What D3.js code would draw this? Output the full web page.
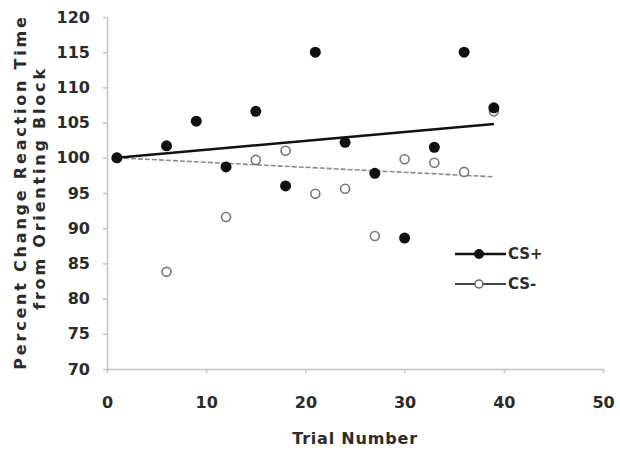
<!DOCTYPE html>
<html>
<head>
<meta charset="utf-8">
<script src="https://cdn.jsdelivr.net/npm/d3@7"></script>
<style>
  body { margin: 0; background: #fff; }
  svg { display: block; font-family: "DejaVu Sans", Verdana, sans-serif; }
</style>
</head>
<body>
<div id="scatter"></div>
<script>
// data
var plusTrials = [1, 6, 9, 12, 15, 18, 21, 24, 27, 30, 33, 36, 39];
var csPlus = [100, 101.7, 105.2, 98.7, 106.6, 96, 115, 102.2, 97.8, 88.6, 101.5, 115, 107.1];
var minusTrials = [1, 6, 12, 15, 18, 21, 24, 27, 30, 33, 36, 39];
var csMinus = [100, 83.8, 91.6, 99.7, 101, 94.9, 95.6, 88.9, 99.8, 99.3, 98, 106.6];
// trend line ends
var trendTrials = [1, 39];
var csPlusTrend = [100, 104.8];
var csMinusTrend = [100, 97.3];
var xTicks = [0, 10, 20, 30, 40, 50];
var yTicks = [70, 75, 80, 85, 90, 95, 100, 105, 110, 115, 120];
var seriesNames = ["CS+", "CS-"];

var svgWidth = 620;
var svgHeight = 457;
var margin = { top: 17, right: 17, bottom: 88, left: 107 };
var width = svgWidth - margin.left - margin.right;
var height = svgHeight - margin.top - margin.bottom;

var svg = d3.select("#scatter")
  .append("svg")
  .attr("width", svgWidth)
  .attr("height", svgHeight);

var chartGroup = svg.append("g")
  .attr("transform", `translate(${margin.left}, ${margin.top})`);

var xScale = d3.scaleLinear().domain([0, 50]).range([0, width]);
var yScale = d3.scaleLinear().domain([70, 120]).range([height, 0]);

// axes
var xAxis = chartGroup.append("g")
  .attr("transform", `translate(0, ${height})`)
  .call(d3.axisBottom(xScale).tickValues(xTicks).tickSize(4).tickSizeOuter(0));
xAxis.selectAll("text").attr("y", 28);

var yAxis = chartGroup.append("g")
  .call(d3.axisLeft(yScale).tickValues(yTicks).tickSize(4).tickSizeOuter(0));
yAxis.selectAll("text").attr("x", -17);

chartGroup.selectAll(".domain, .tick line")
  .attr("stroke", "#c4c4c4")
  .attr("stroke-width", 1.5);
chartGroup.selectAll(".tick text")
  .attr("font-family", "DejaVu Sans")
  .attr("font-size", "16px")
  .attr("font-weight", "bold")
  .attr("fill", "#2b2b2b");

// trend lines
var line = d3.line()
  .x(d => xScale(d[0]))
  .y(d => yScale(d[1]));

chartGroup.append("path")
  .datum(d3.zip(trendTrials, csMinusTrend))
  .attr("d", line)
  .attr("fill", "none")
  .attr("stroke", "#8a8a8a")
  .attr("stroke-width", 1.6)
  .attr("stroke-dasharray", "5,2");

chartGroup.append("path")
  .datum(d3.zip(trendTrials, csPlusTrend))
  .attr("d", line)
  .attr("fill", "none")
  .attr("stroke", "#111")
  .attr("stroke-width", 2.5);

// CS- open circles
chartGroup.append("g").selectAll("circle")
  .data(d3.zip(minusTrials, csMinus))
  .enter()
  .append("circle")
  .attr("cx", d => xScale(d[0]))
  .attr("cy", d => yScale(d[1]))
  .attr("r", 4.5)
  .attr("fill", "#fff")
  .attr("stroke", "#777")
  .attr("stroke-width", 1.6);

// CS+ filled circles
chartGroup.append("g").selectAll("circle")
  .data(d3.zip(plusTrials, csPlus))
  .enter()
  .append("circle")
  .attr("cx", d => xScale(d[0]))
  .attr("cy", d => yScale(d[1]))
  .attr("r", 5.5)
  .attr("fill", "#111");

// legend
var legend = svg.append("g").attr("transform", "translate(455, 254)");
seriesNames.forEach(function(name, i) {
  var row = legend.append("g").attr("transform", `translate(0, ${i * 30})`);
  row.append("line")
    .attr("x1", 0).attr("x2", 51)
    .attr("stroke", i === 0 ? "#111" : "#444")
    .attr("stroke-width", i === 0 ? 2.5 : 2);
  row.append("circle")
    .attr("cx", 24)
    .attr("r", i === 0 ? 5 : 4)
    .attr("fill", i === 0 ? "#111" : "#fff")
    .attr("stroke", i === 0 ? "none" : "#666")
    .attr("stroke-width", 1.5);
  row.append("text")
    .attr("x", 53)
    .attr("dy", "0.36em")
    .attr("font-size", "15px")
    .attr("font-weight", "bold")
    .attr("fill", "#2b2b2b")
    .text(name);
});

// x-axis label
chartGroup.append("text")
  .attr("transform", `translate(${xScale(25)}, ${height + 75})`)
  .attr("text-anchor", "middle")
  .attr("font-size", "16px")
  .attr("font-weight", "bold")
  .attr("letter-spacing", "0.8px")
  .attr("fill", "#2b2b2b")
  .text("Trial Number");

// y-axis label (two lines)
var yLabel = svg.append("text")
  .attr("transform", "translate(26, 192) rotate(-90)")
  .attr("text-anchor", "middle")
  .attr("font-size", "16px")
  .attr("font-weight", "bold")
  .attr("letter-spacing", "2.8px")
  .attr("fill", "#2b2b2b");
yLabel.append("tspan").attr("x", 0).attr("y", 0).text("Percent Change Reaction Time");
yLabel.append("tspan").attr("x", 4).attr("y", 19).text("from Orienting Block");
</script>
</body>
</html>
